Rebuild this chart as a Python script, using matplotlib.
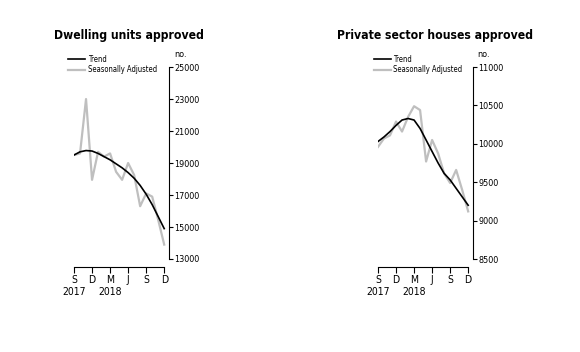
import numpy as np
import matplotlib.pyplot as plt

# monthly, Sep 2017 .. Dec 2018
months = ['S', 'O', 'N', 'D', 'J', 'F', 'M', 'A', 'M', 'J', 'J', 'A', 'S', 'O', 'N', 'D']
tick_pos = [0, 3, 6, 9, 12, 15]
tick_labels = ['S\n2017', 'D', 'M\n2018', 'J', 'S', 'D']

dwell_trend = [19500, 19700, 19780, 19750, 19600, 19400, 19200, 18950,
               18700, 18400, 18050, 17600, 17050, 16400, 15650, 14900]
dwell_sa = [19500, 19600, 23000, 17950, 19700, 19400, 19600, 18450,
            17950, 19000, 18250, 16300, 17100, 16900, 15450, 13900]

house_trend = [10030, 10090, 10160, 10240, 10310, 10330, 10310, 10200,
               10050, 9900, 9750, 9615, 9530, 9420, 9310, 9200]
house_sa = [9960, 10070, 10110, 10290, 10160, 10350, 10490, 10440,
            9770, 10050, 9875, 9615, 9490, 9660, 9400, 9120]

plt.rcParams['font.family'] = ['DejaVu Sans']
plt.rcParams['font.stretch'] = 'condensed'

fig = plt.figure(figsize=(5.8, 3.52), dpi=100)


def panel(rect, trend, sa, yticks, ylo, title, title_x, leg_x):
    ax = fig.add_axes(rect)
    x = np.arange(len(trend))
    ax.plot(x, sa, color='#bfbfbf', lw=1.6, label='Seasonally Adjusted')
    ax.plot(x, trend, color='black', lw=1.2, label='Trend')
    ax.set_xlim(0, 15.8)
    ax.set_ylim(ylo, yticks[-1])
    ax.yaxis.tick_right()
    ax.set_yticks(yticks)
    ax.set_yticklabels([str(v) for v in yticks], fontsize=6.5)
    ax.set_xticks(tick_pos)
    ax.set_xticklabels(tick_labels, fontsize=7.5, linespacing=1.2)
    ax.spines['top'].set_visible(False)
    ax.spines['left'].set_visible(False)
    ax.spines['right'].set_bounds(yticks[0], yticks[-1])
    ax.spines['bottom'].set_bounds(0, 15)
    ax.tick_params(axis='y', length=3, pad=1, width=0.8)
    ax.tick_params(axis='x', length=4, pad=2, width=0.8)
    ax.text(1.05, 1.04, 'no.', transform=ax.transAxes, fontsize=6.5,
            ha='left', va='bottom')
    h, l = ax.get_legend_handles_labels()
    fig.legend(h[::-1], l[::-1], loc='upper left',
               bbox_to_anchor=(leg_x, 0.845), frameon=False, fontsize=5.5,
               handlelength=2.2, handletextpad=0.3, labelspacing=0.25,
               borderpad=0, borderaxespad=0)
    fig.text(title_x, 0.90, title, ha='center', va='center', fontsize=8.7,
             fontweight='bold')
    return ax


panel([0.1276, 0.2415, 0.1638, 0.568], dwell_trend, dwell_sa,
      [13000, 15000, 17000, 19000, 21000, 23000, 25000], 12500,
      'Dwelling units approved', 0.222, 0.118)
panel([0.6517, 0.2415, 0.1638, 0.568], house_trend, house_sa,
      [8500, 9000, 9500, 10000, 10500, 11000], 8396,
      'Private sector houses approved', 0.750, 0.645)

fig.savefig('out.png', dpi=100)
